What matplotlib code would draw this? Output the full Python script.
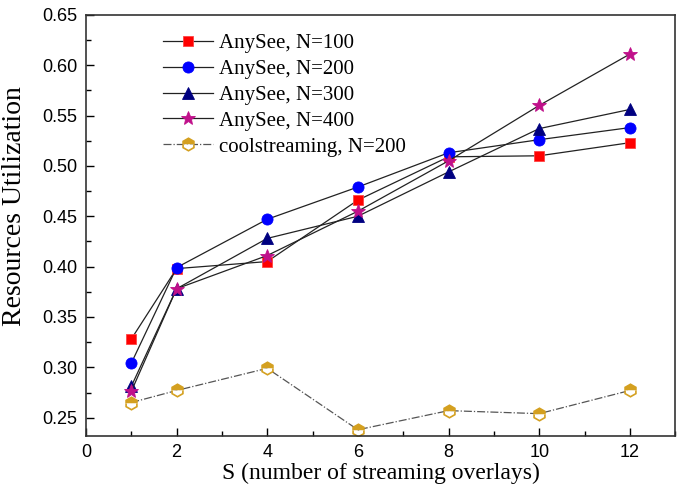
import matplotlib
matplotlib.use('Agg')
import matplotlib.pyplot as plt
from matplotlib.ticker import MultipleLocator

# Data
S = [1, 2, 4, 6, 8, 10, 12]
anysee_100 = [0.328, 0.398, 0.405, 0.466, 0.509, 0.510, 0.523]
anysee_200 = [0.304, 0.399, 0.447, 0.479, 0.513, 0.526, 0.538]
anysee_300 = [0.281, 0.378, 0.428, 0.450, 0.494, 0.537, 0.556]
anysee_400 = [0.276, 0.378, 0.411, 0.455, 0.505, 0.560, 0.611]
cool_200 = [0.265, 0.277, 0.299, 0.238, 0.257, 0.254, 0.277]

labels = ['AnySee, N=100', 'AnySee, N=200', 'AnySee, N=300',
          'AnySee, N=400', 'coolstreaming, N=200']

serif = ['Liberation Serif', 'DejaVu Serif']
sans = ['Liberation Sans', 'DejaVu Sans']

fig = plt.figure(figsize=(6.82, 4.93), dpi=100)
ax = fig.add_axes([0.126, 0.116, 0.864, 0.854])

line_kw = dict(color='#222222', lw=0.9, markeredgewidth=0.6)
ax.plot(S, anysee_100, marker='s', ms=7, mfc='red', mec='#ff4444',
        label=labels[0], **line_kw)
ax.plot(S, anysee_200, marker='o', ms=8, mfc='blue', mec='blue',
        label=labels[1], **line_kw)
ax.plot(S, anysee_300, marker='^', ms=8, mfc='#000080', mec='#000080',
        label=labels[2], **line_kw)
ax.plot(S, anysee_400, marker='*', ms=10, mfc='#c0108a', mec='#c0108a',
        label=labels[3], **line_kw)
ax.plot(S, cool_200, marker='h', ms=9, color='#555555', lw=0.9, ls='-.',
        mfc='#d4a020', mec='#d4a020', mfcalt='white', fillstyle='top',
        markeredgewidth=1.2, label=labels[4])

ax.set_xlim(0, 13)
ax.set_ylim(0.232, 0.65)
ax.xaxis.set_major_locator(MultipleLocator(2))
ax.xaxis.set_minor_locator(MultipleLocator(1))
ax.yaxis.set_major_locator(MultipleLocator(0.05))
ax.yaxis.set_minor_locator(MultipleLocator(0.025))
ax.yaxis.set_major_formatter(matplotlib.ticker.FormatStrFormatter('%.2f'))
ax.tick_params(which='both', direction='in', top=False, right=False)
ax.tick_params(which='major', length=6, width=1, labelsize=13, pad=6)
ax.tick_params(which='minor', length=3.5, width=1)
for t in ax.get_xticklabels() + ax.get_yticklabels():
    t.set_family(sans)
for sp in ax.spines.values():
    sp.set_linewidth(1.2)
    sp.set_color('#333333')

ax.set_xlabel('S (number of streaming overlays)', family=serif, fontsize=17,
              labelpad=1)
ax.set_ylabel('Resources Utilization', family=serif, fontsize=20)
ax.yaxis.set_label_coords(-0.1, 0.545)

leg = ax.legend(loc='upper left', bbox_to_anchor=(0.11, 0.985), frameon=False,
                prop={'family': serif, 'size': 15}, handlelength=2.4,
                handletextpad=0.3, labelspacing=0.3, borderaxespad=0.2)

fig.savefig('out.png', dpi=100)
